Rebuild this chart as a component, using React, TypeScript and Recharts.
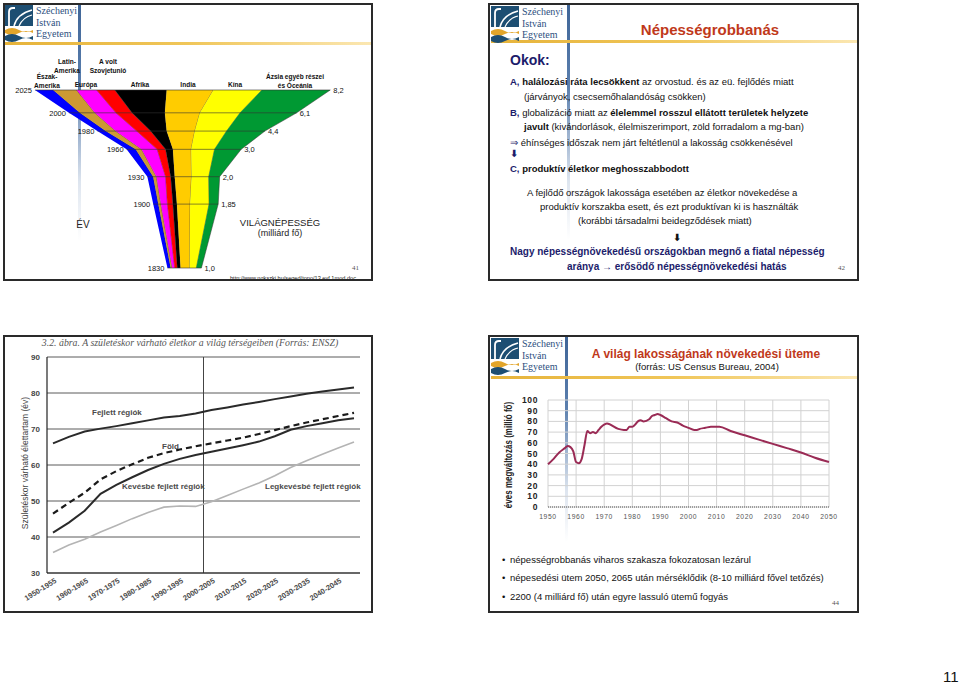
import React from "react";
import {
  AreaChart,
  Area,
  LineChart,
  Line,
  XAxis,
  YAxis,
  CartesianGrid,
  ReferenceLine,
} from "recharts";

const SANS = "'Liberation Sans', Arial, sans-serif";
const SERIF = "'Liberation Serif', 'Times New Roman', serif";
const NAVY = "#1c1c6b";
const RED = "#c0391b";

// --- világnépesség tölcsér (milliárd fő, régiónként) ---
const years = [1830, 1900, 1930, 1960, 1980, 2000, 2025];
const leftEdge = [4.04, 3.65, 3.49, 2.92, 2.12, 1.34, 0.41];
const northAmerica = [0.09, 0.14, 0.16, 0.25, 0.23, 0.3, 0.5];
const latinAmerica = [0.04, 0.07, 0.09, 0.16, 0.27, 0.41, 0.64];
const europe = [0.07, 0.18, 0.25, 0.43, 0.58, 0.58, 0.55];
const sovietUnion = [0.07, 0.15, 0.14, 0.23, 0.38, 0.44, 0.5];
const africa = [0.09, 0.11, 0.11, 0.2, 0.44, 0.9, 1.42];
const india = [0.25, 0.36, 0.46, 0.5, 0.77, 0.96, 1.28];
const china = [0.18, 0.52, 0.47, 0.64, 0.87, 1.1, 1.33];
const asiaOther = [0.14, 0.25, 0.3, 0.73, 1.05, 1.55, 1.87];
const totalLabels = ["1,0", "1,85", "2,0", "3,0", "4,4", "6,1", "8,2"];

const regionSeries = [
  { key: "na", values: northAmerica, color: "#0000ff" },
  { key: "la", values: latinAmerica, color: "#cc9933" },
  { key: "eu", values: europe, color: "#ff00ff" },
  { key: "su", values: sovietUnion, color: "#ff0000" },
  { key: "af", values: africa, color: "#000000" },
  { key: "in", values: india, color: "#ffcc00" },
  { key: "cn", values: china, color: "#ffff00" },
  { key: "as", values: asiaOther, color: "#009933" },
];

const funnelData = years.map((year, i) => {
  const row: any = { year, offset: leftEdge[i] };
  let total = 0;
  regionSeries.forEach((s) => {
    row[s.key] = s.values[i];
    total += s.values[i];
  });
  row.total = total;
  return row;
});

// --- születéskor várható élettartam ---
const periods = [
  "1950-1955", "1955-1960", "1960-1965", "1965-1970", "1970-1975",
  "1975-1980", "1980-1985", "1985-1990", "1990-1995", "1995-2000",
  "2000-2005", "2005-2010", "2010-2015", "2015-2020", "2020-2025",
  "2025-2030", "2030-2035", "2035-2040", "2040-2045", "2045-2050",
];
const developed = [66, 67.8, 69.3, 70.1, 70.8, 71.6, 72.4, 73.2, 73.6, 74.3, 75.3, 76, 76.8, 77.5, 78.3, 79, 79.8, 80.4, 81, 81.5];
const world = [46.5, 49.5, 52.3, 56, 58.3, 60.2, 62, 63.3, 64.3, 65.2, 66, 66.8, 67.6, 68.6, 69.7, 70.8, 71.8, 72.7, 73.6, 74.5];
const lessDeveloped = [41.2, 44, 47.3, 52, 54.5, 56.6, 58.6, 60.3, 61.7, 62.8, 63.7, 64.6, 65.5, 66.5, 68, 69.8, 70.8, 71.6, 72.4, 73];
const leastDeveloped = [35.7, 37.8, 39.4, 41.4, 43.2, 45.1, 46.8, 48.3, 48.6, 48.5, 49.8, 51.5, 53.3, 55, 57, 59.3, 61.2, 63, 64.7, 66.4];
const lifeTicks = [30, 40, 50, 60, 70, 80, 90];

const lifeData = periods.map((p, i) => ({
  idx: i,
  developed: developed[i],
  world: world[i],
  lessDeveloped: lessDeveloped[i],
  leastDeveloped: leastDeveloped[i],
}));

// --- éves népességnövekedés (millió fő) ---
const growthYears = [1950, 1952, 1954, 1956, 1957, 1958, 1959, 1960, 1961, 1962, 1963, 1964, 1965, 1966, 1967, 1968, 1969, 1970, 1971, 1975, 1977, 1978, 1979, 1980, 1981, 1982, 1983, 1984, 1986, 1987, 1988, 1989, 1990, 1992, 1994, 1996, 1998, 2000, 2002, 2003, 2004, 2006, 2008, 2011, 2015, 2020, 2025, 2030, 2035, 2040, 2045, 2050];
const growthValues = [40, 45, 51, 55, 57, 56, 52, 42, 41, 45, 58, 71, 69, 70, 69, 72, 75, 77, 78, 73, 72, 72, 75, 75, 77, 80, 81, 80, 82, 85, 86, 87, 86, 83, 80, 79, 76, 74, 72, 72, 73, 74, 75, 75, 71, 67, 63, 59, 55, 51, 46, 42];
const growthYTicks = [0, 10, 20, 30, 40, 50, 60, 70, 80, 90, 100];
const growthXTicks = [1950, 1960, 1970, 1980, 1990, 2000, 2010, 2020, 2030, 2040, 2050];

const growthData = growthYears.map((year, i) => ({ year, value: growthValues[i] }));

function T({ x, y, size = 10, center = false, children, style }: any) {
  return (
    <div
      style={{
        position: "absolute",
        left: x,
        top: y - size * 0.6,
        fontSize: size,
        lineHeight: `${size * 1.2}px`,
        whiteSpace: "nowrap",
        fontFamily: SANS,
        color: "#111",
        transform: center ? "translateX(-50%)" : undefined,
        ...style,
      }}
    >
      {children}
    </div>
  );
}

// oszlopfejléc a tölcsér fölött: egy blokk, sorai szorosan egymás alatt
function H({ x, y, lines }: any) {
  return (
    <div
      style={{
        position: "absolute",
        left: x,
        top: y - 4.5,
        fontSize: 7.6,
        lineHeight: "9px",
        whiteSpace: "nowrap",
        fontFamily: SANS,
        fontWeight: "bold",
        color: "#111",
        textAlign: "center",
        transform: "translateX(-50%) scaleX(0.86)",
      }}
    >
      {lines.map((l: string, i: number) => (
        <React.Fragment key={i}>
          {i > 0 && <br />}
          {l}
        </React.Fragment>
      ))}
    </div>
  );
}

function Frame({ x, y, w, h }: any) {
  return (
    <div
      style={{
        position: "absolute",
        left: x,
        top: y,
        width: w,
        height: h,
        border: "2px solid #2a2a2a",
        boxSizing: "border-box",
      }}
    />
  );
}

function Logo({ x, y, barHeight, barX, goldY, goldW }: any) {
  return (
    <>
      <div
        style={{
          position: "absolute",
          left: barX,
          top: y - 2,
          width: 3,
          height: barHeight,
          background: "linear-gradient(to bottom, #3f6597 0%, #5b7fae 35%, rgba(120,150,190,0.25) 75%, rgba(255,255,255,0) 100%)",
        }}
      />
      <div
        style={{
          position: "absolute",
          left: x,
          top: goldY,
          width: goldW,
          height: 3,
          background: "linear-gradient(to right, #e6b33a 0%, #f0c659 50%, #fbe7b2 100%)",
        }}
      />
      <div style={{ position: "absolute", left: x, top: y, width: 28, height: 21, background: "#1d4e72" }} />
      <svg style={{ position: "absolute", left: x, top: y, overflow: "visible" }} width={28} height={36} viewBox="0 0 28 36">
        <path d="M4 21 V7 Q4 3 8 3 H10" stroke="#ffffff" strokeWidth={1.8} fill="none" />
        <path d="M9 21 Q12 9 27 5" stroke="#ffffff" strokeWidth={1.5} fill="none" />
        <path d="M14 21 Q18 12 27 10" stroke="#ffffff" strokeWidth={1.2} fill="none" />
        <path d="M0 25 Q7 21 14 25 T28 25 V28 Q21 24 14 28 T0 28 Z" fill="#e2a52a" />
        <path d="M0 31 Q7 27 14 31 T28 31 V35 Q21 31 14 35 T0 35 Z" fill="#1d4e72" />
      </svg>
      <div
        style={{
          position: "absolute",
          left: x + 31,
          top: y,
          fontFamily: SERIF,
          fontSize: 10,
          lineHeight: "11.5px",
          color: "#2d4f80",
        }}
      >
        Széchenyi
        <br />
        István
        <br />
        Egyetem
      </div>
    </>
  );
}

function FunnelChart() {
  const yearLabel = (p: any) => (
    <text key={`y${p.index}`} x={p.cx - 3} y={p.cy + 3} textAnchor="end" fontSize={7.5} fontFamily={SANS} fill="#111">
      {p.payload.year}
    </text>
  );
  const totalLabel = (p: any) => (
    <text key={`t${p.index}`} x={p.cx + 3} y={p.cy + 3} textAnchor="start" fontSize={7.5} fontFamily={SANS} fill="#111">
      {totalLabels[p.index]}
    </text>
  );
  return (
    <div style={{ position: "absolute", left: 0, top: 0 }}>
      <AreaChart
        width={385}
        height={290}
        layout="vertical"
        data={funnelData}
        margin={{ top: 90, right: 0, bottom: 22, left: 20 }}
      >
        <XAxis type="number" domain={[0, 10]} hide />
        <YAxis type="number" dataKey="year" domain={[1830, 2025]} reversed hide />
        <Area
          type="linear"
          dataKey="offset"
          stackId="pop"
          fill="none"
          stroke="none"
          dot={yearLabel}
          activeDot={false}
          isAnimationActive={false}
        />
        {regionSeries.map((s, i) => (
          <Area
            key={s.key}
            type="linear"
            dataKey={s.key}
            stackId="pop"
            fill={s.color}
            fillOpacity={1}
            stroke="#333"
            strokeWidth={0.5}
            dot={i === regionSeries.length - 1 ? totalLabel : false}
            activeDot={false}
            isAnimationActive={false}
          />
        ))}
        {funnelData.map((d) => (
          <ReferenceLine
            key={d.year}
            segment={[
              { x: d.offset, y: d.year },
              { x: d.offset + d.total, y: d.year },
            ]}
            stroke="#333"
            strokeWidth={0.6}
          />
        ))}
      </AreaChart>
    </div>
  );
}

function PeriodTick({ x, y, payload }: any) {
  return (
    <g transform={`translate(${x + 4},${y + 7})`}>
      <text textAnchor="end" transform="rotate(-32)" fontSize={7.5} fontWeight="bold" fill="#4a4a4a" fontFamily={SANS}>
        {periods[payload.value]}
      </text>
    </g>
  );
}

function LifeChart() {
  return (
    <div style={{ position: "absolute", left: 0, top: 330 }}>
      <LineChart width={372} height={283} data={lifeData} margin={{ top: 27, right: 12, bottom: 10, left: 27 }}>
        <CartesianGrid vertical={false} stroke="#5a5a5a" strokeWidth={1} />
        <XAxis
          type="number"
          dataKey="idx"
          domain={[0, 19]}
          ticks={[0, 2, 4, 6, 8, 10, 12, 14, 16, 18]}
          padding={{ left: 6, right: 6 }}
          height={30}
          tickLine={false}
          tickSize={0}
          axisLine={{ stroke: "#222", strokeWidth: 1.2 }}
          tick={<PeriodTick />}
          interval={0}
        />
        <YAxis
          type="number"
          domain={[30, 90]}
          ticks={lifeTicks}
          width={20}
          tickLine={false}
          tickSize={5}
          axisLine={{ stroke: "#222", strokeWidth: 1.2 }}
          tick={{ fontSize: 8, fill: "#444", fontFamily: SANS, fontWeight: "bold" }}
        />
        <ReferenceLine x={9.5} stroke="#444" strokeWidth={1} />
        <Line type="linear" dataKey="leastDeveloped" stroke="#b4b4b4" strokeWidth={1.6} dot={false} isAnimationActive={false} />
        <Line type="linear" dataKey="lessDeveloped" stroke="#2a2a2a" strokeWidth={2} dot={false} isAnimationActive={false} />
        <Line type="linear" dataKey="world" stroke="#1a1a1a" strokeWidth={2.2} strokeDasharray="6 4" dot={false} isAnimationActive={false} />
        <Line type="linear" dataKey="developed" stroke="#2a2a2a" strokeWidth={2} dot={false} isAnimationActive={false} />
      </LineChart>
    </div>
  );
}

function GrowthChart() {
  return (
    <div style={{ position: "absolute", left: 490, top: 390 }}>
      <LineChart width={350} height={140} data={growthData} margin={{ top: 10, right: 11, bottom: 5, left: 28 }}>
        <CartesianGrid stroke="#d2d2d2" strokeWidth={1} />
        <XAxis
          type="number"
          dataKey="year"
          domain={[1950, 2050]}
          ticks={growthXTicks}
          interval={0}
          height={18}
          tickLine={false}
          tickSize={0}
          tickMargin={7}
          axisLine={{ stroke: "#555", strokeDasharray: "1 1" }}
          tick={{ fontSize: 6.8, fill: "#555", fontFamily: SANS, letterSpacing: 0.6 }}
        />
        <YAxis
          type="number"
          domain={[0, 100]}
          ticks={growthYTicks}
          interval={0}
          width={30}
          tickLine={false}
          tickSize={8}
          axisLine={false}
          tick={{ fontSize: 8.5, fill: "#222", fontFamily: SANS, fontWeight: "bold", letterSpacing: 0.6 }}
        />
        <Line type="monotone" dataKey="value" stroke="#9a2b55" strokeWidth={2} dot={false} isAnimationActive={false} />
      </LineChart>
    </div>
  );
}

export default function App() {
  return (
    <div style={{ position: "relative", width: 960, height: 684, background: "#fff", overflow: "hidden" }}>
      <style>{"body{margin:0}"}</style>

      {/* felső bal dia */}
      <Logo x={5} y={5} barX={78} barHeight={238} goldY={42} goldW={366} />
      <FunnelChart />
      <H x={47} y={76} lines={["Észak-", "Amerika"]} />
      <H x={67} y={61} lines={["Latin-", "Amerika"]} />
      <H x={86} y={84} lines={["Európa"]} />
      <H x={108} y={61} lines={["A volt", "Szovjetunió"]} />
      <H x={140} y={84} lines={["Afrika"]} />
      <H x={188} y={84} lines={["India"]} />
      <H x={235} y={84} lines={["Kína"]} />
      <H x={295} y={76} lines={["Ázsia egyéb részei", "és Óceánia"]} />
      <T x={83} y={225} size={10} center style={{ color: "#222" }}>ÉV</T>
      <T x={280} y={223} size={9.5} center style={{ color: "#222" }}>VILÁGNÉPESSÉG</T>
      <T x={280} y={233} size={9} center style={{ color: "#222" }}>(milliárd fő)</T>
      <T x={352} y={268} size={7} style={{ fontFamily: SERIF, color: "#555" }}>41</T>
      <T x={230} y={278} size={5.6} style={{ color: "#222" }}>http://www.ngkszki.hu/seged/topo/13.evf.1mod.doc</T>
      <Frame x={3} y={3} w={370} h={278} />

      {/* felső jobb dia */}
      <Logo x={491} y={6} barX={567} barHeight={236} goldY={40} goldW={366} />
      <T x={710} y={30} size={15} center style={{ fontWeight: "bold", color: RED }}>Népességrobbanás</T>
      <T x={510} y={60} size={14} style={{ fontWeight: "bold", color: NAVY }}>Okok:</T>
      <T x={510} y={82} size={9.5}>
        <b style={{ color: NAVY }}>A, </b>
        <b>halálozási ráta lecsökkent</b> az orvostud. és az eü. fejlődés miatt
      </T>
      <T x={524} y={97} size={9.5}>(járványok, csecsemőhalandóság csökken)</T>
      <T x={510} y={113} size={9.5}>
        <b style={{ color: NAVY }}>B, </b>globalizáció miatt az <b>élelemmel rosszul ellátott területek helyzete</b>
      </T>
      <T x={524} y={127} size={9.5}>
        <b>javult</b> (kivándorlások, élelmiszerimport, zöld forradalom a mg-ban)
      </T>
      <T x={510} y={143} size={9.5}>
        <span style={{ color: NAVY }}>⇒</span> éhínséges időszak nem járt feltétlenül a lakosság csökkenésével
      </T>
      <T x={510} y={154} size={10} style={{ color: NAVY, fontWeight: "bold", fontFamily: "'DejaVu Sans', sans-serif" }}>⬇</T>
      <T x={510} y={169} size={9.5} style={{ fontWeight: "bold" }}>
        <span style={{ color: NAVY }}>C, </span>produktív életkor meghosszabbodott
      </T>
      <T x={527} y={193} size={9.5}>A fejlődő országok lakossága esetében az életkor növekedése a</T>
      <T x={540} y={207} size={9.5}>produktív korszakba esett, és ezt produktívan ki is használták</T>
      <T x={578} y={221} size={9.5}>(korábbi társadalmi beidegződések miatt)</T>
      <T x={673} y={238} size={10} style={{ color: "#111", fontWeight: "bold", fontFamily: "'DejaVu Sans', sans-serif" }}>⬇</T>
      <T x={510} y={252} size={10} style={{ fontWeight: "bold", color: NAVY }}>
        Nagy népességnövekedésű országokban megnő a fiatal népesség
      </T>
      <T x={567} y={267} size={10} style={{ fontWeight: "bold", color: NAVY }}>
        aránya → erősödő népességnövekedési hatás
      </T>
      <T x={838} y={268} size={7} style={{ fontFamily: SERIF, color: "#555" }}>42</T>
      <Frame x={488} y={3} w={371} h={278} />

      {/* alsó bal dia */}
      <T x={190} y={343} size={9.8} center style={{ fontFamily: SERIF, fontStyle: "italic", color: "#555" }}>
        3.2. ábra. A születéskor várható életkor a világ térségeiben (Forrás: ENSZ)
      </T>
      <LifeChart />
      <div
        style={{
          position: "absolute",
          left: 25,
          top: 463,
          transform: "translate(-50%, -50%) rotate(-90deg)",
          fontFamily: SANS,
          fontSize: 8.5,
          color: "#444",
          whiteSpace: "nowrap",
        }}
      >
        Születéskor várható élettartam (év)
      </div>
      <T x={92} y={413} size={8} style={{ fontWeight: "bold", color: "#4a4a4a" }}>Fejlett régiók</T>
      <T x={162} y={447} size={8} style={{ fontWeight: "bold", color: "#4a4a4a" }}>Föld</T>
      <T x={122} y={487} size={8} style={{ fontWeight: "bold", color: "#4a4a4a" }}>Kevésbé fejlett régiók</T>
      <T x={265} y={487} size={8} style={{ fontWeight: "bold", color: "#4a4a4a" }}>Legkevésbé fejlett régiók</T>
      <Frame x={3} y={335} w={370} h={278} />

      {/* alsó jobb dia */}
      <Logo x={491} y={338} barX={565} barHeight={206} goldY={376} goldW={366} />
      <T x={706} y={354} size={12} center style={{ fontWeight: "bold", color: RED }}>
        A világ lakosságának növekedési üteme
      </T>
      <T x={707} y={367} size={9.5} center>(forrás: US Census Bureau, 2004)</T>
      <GrowthChart />
      <div
        style={{
          position: "absolute",
          left: 508,
          top: 455,
          transform: "translate(-50%, -50%) rotate(-90deg) scaleX(0.8)",
          fontFamily: SANS,
          fontSize: 10,
          fontWeight: "bold",
          color: "#222",
          whiteSpace: "nowrap",
        }}
      >
        éves megváltozás (millió fő)
      </div>
      <T x={502} y={560} size={9.5}>•</T>
      <T x={510} y={560} size={9.5}>népességrobbanás viharos szakasza fokozatosan lezárul</T>
      <T x={502} y={578} size={9.5}>•</T>
      <T x={510} y={578} size={9.5}>népesedési ütem 2050, 2065 után mérséklődik (8-10 milliárd fővel tetőzés)</T>
      <T x={502} y={597} size={9.5}>•</T>
      <T x={510} y={597} size={9.5}>2200 (4 milliárd fő) után egyre lassuló ütemű fogyás</T>
      <T x={832} y={603} size={7} style={{ fontFamily: SERIF, color: "#555" }}>44</T>
      <Frame x={488} y={335} w={371} h={278} />

      <T x={943} y={677} size={15} style={{ color: "#111" }}>11</T>
    </div>
  );
}
